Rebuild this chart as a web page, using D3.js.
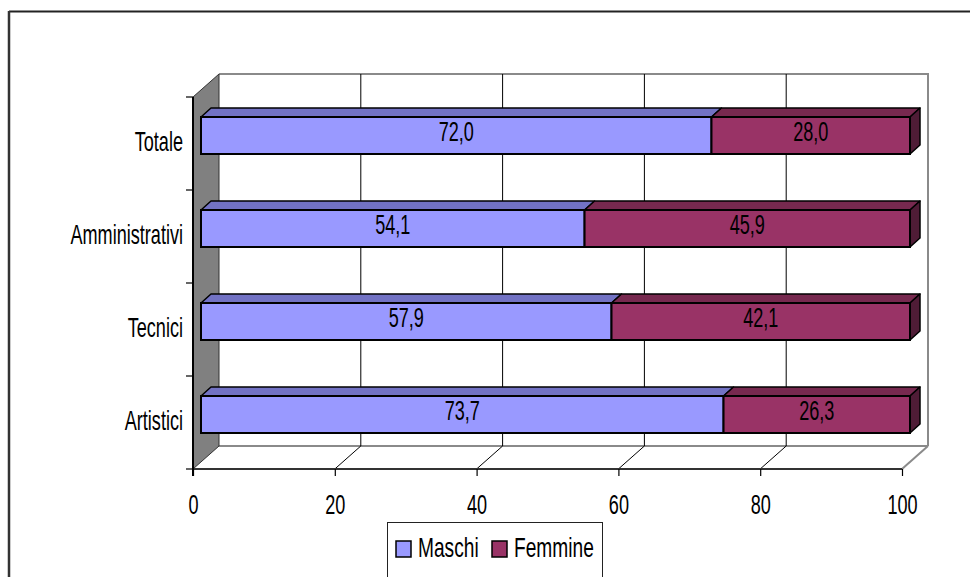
<!DOCTYPE html>
<html>
<head>
<meta charset="utf-8">
<script src="https://cdn.jsdelivr.net/npm/d3@7"></script>
<style>
  html, body { margin: 0; padding: 0; background: #fff; }
  svg { display: block; }
  text { font-family: "Liberation Sans", Arial, sans-serif; font-size: 27px; fill: #000; }
</style>
</head>
<body>
<svg id="chart" width="970" height="577"></svg>
<script>
// ---- data ----
const categories = ["Totale", "Amministrativi", "Tecnici", "Artistici"];
const seriesNames = ["Maschi", "Femmine"];
const maschi = [72.0, 54.1, 57.9, 73.7];
const femmine = [28.0, 45.9, 42.1, 26.3];
const xTicks = [0, 20, 40, 60, 80, 100];

// ---- styles ----
const frontColors = ["#9999FF", "#993366"];
const topColors = ["#7272C4", "#77294F"];
const sideColors = ["#5A5AA0", "#4F1C36"];
const SX = 0.67; // horizontal condensing of text

const svg = d3.select("#chart");

// geometry
const DX = 26, DY = -23;            // depth of the 3D box
const x = d3.scaleLinear().domain([0, 100]).range([193, 902]);
const y = d3.scaleBand().domain(categories).range([97, 469]).padding(0);
const barOff = { x: 8, y: -8 };      // front face offset into the depth
const barDepth = { x: 10, y: -9 };   // visible depth of bars
const barH = 37;

const locale = d3.formatLocale({ decimal: ",", thousands: ".", grouping: [3], currency: ["", "€"] });
const fmt = locale.format(".1f");

// outer frame
svg.append("line").attr("x1", 9).attr("x2", 970).attr("y1", 11.5).attr("y2", 11.5)
  .attr("stroke", "#222").attr("stroke-width", 2);
svg.append("line").attr("x1", 9).attr("x2", 9).attr("y1", 11).attr("y2", 577)
  .attr("stroke", "#333").attr("stroke-width", 2.5);

const y0 = y.range()[0], y1 = y.range()[1];
const xl = x(0), xr = x(100);

// back wall
svg.append("rect").attr("x", xl + DX).attr("y", y0 + DY)
  .attr("width", xr - xl).attr("height", y1 - y0)
  .attr("fill", "#fff");
svg.append("path")
  .attr("d", `M${xl + DX},${y0 + DY}H${xr + DX}V${y1 + DY}`)
  .attr("fill", "none").attr("stroke", "#8a8a8a").attr("stroke-width", 2);
svg.append("line").attr("x1", xl + DX).attr("x2", xr + DX).attr("y1", y1 + DY).attr("y2", y1 + DY)
  .attr("stroke", "#8a8a8a").attr("stroke-width", 2);

// left side wall
svg.append("path")
  .attr("d", `M${xl},${y0}L${xl + DX},${y0 + DY}V${y1 + DY}L${xl},${y1}Z`)
  .attr("fill", "#808080").attr("stroke", "#333").attr("stroke-width", 1);

// floor right edge
svg.append("line").attr("x1", xr).attr("y1", y1).attr("x2", xr + DX).attr("y2", y1 + DY)
  .attr("stroke", "#8a8a8a").attr("stroke-width", 2);

// gridlines on the back wall and floor
const gridVals = xTicks.filter(v => v > 0 && v < 100);
svg.selectAll("line.grid").data(gridVals).join("line").attr("class", "grid")
  .attr("x1", d => x(d) + DX).attr("x2", d => x(d) + DX)
  .attr("y1", y0 + DY).attr("y2", y1 + DY)
  .attr("stroke", "#000").attr("stroke-width", 1);
svg.selectAll("line.floorgrid").data(gridVals).join("line").attr("class", "floorgrid")
  .attr("x1", d => x(d)).attr("y1", y1)
  .attr("x2", d => x(d) + DX).attr("y2", y1 + DY)
  .attr("stroke", "#000").attr("stroke-width", 1);

// x axis (front floor edge)
const xAxis = d3.axisBottom(x).tickValues(xTicks).tickSize(7).tickFormat(d3.format("d"));
const gx = svg.append("g").attr("transform", `translate(0,${y1})`).call(xAxis);
gx.select(".domain").attr("stroke", "#333").attr("stroke-width", 2)
  .attr("d", `M${xl},0H${xr}`);
gx.selectAll(".tick line").attr("stroke", "#000").attr("stroke-width", 1.2);
gx.selectAll(".tick text").attr("font-size", null).attr("font-family", null)
  .attr("y", 0).attr("dy", null)
  .attr("transform", `translate(0,45) scale(${SX},1)`)
  .attr("text-anchor", "middle");

// y axis
const boundaries = categories.map(c => y(c)).concat([y1]);
svg.append("line").attr("x1", xl).attr("x2", xl).attr("y1", y0).attr("y2", y1 + 7)
  .attr("stroke", "#000").attr("stroke-width", 2);
svg.selectAll("line.ytick").data(boundaries).join("line").attr("class", "ytick")
  .attr("x1", xl - 7).attr("x2", xl).attr("y1", d => d).attr("y2", d => d)
  .attr("stroke", "#000").attr("stroke-width", 1.2);
svg.selectAll("text.ylab").data(categories).join("text").attr("class", "ylab")
  .attr("text-anchor", "end")
  .attr("transform", d => `translate(183,${y(d) + y.bandwidth() / 2 + 7}) scale(${SX},1)`)
  .text(d => d);

// bars
const series = [maschi, femmine];
categories.forEach((cat, i) => {
  const fy = y(cat) + y.bandwidth() / 2 + barOff.y - barH / 2; // top of front face
  let start = 0;
  series.forEach((vals, s) => {
    const v = vals[i];
    const xa = x(start) + barOff.x, xb = x(start + v) + barOff.x;
    const g = svg.append("g");
    // top face
    g.append("path")
      .attr("d", `M${xa},${fy}L${xa + barDepth.x},${fy + barDepth.y}L${xb + barDepth.x},${fy + barDepth.y}L${xb},${fy}Z`)
      .attr("fill", topColors[s]).attr("stroke", "#000").attr("stroke-width", 1.5).attr("stroke-linejoin", "round");
    // side face (last segment only)
    if (s === series.length - 1) {
      g.append("path")
        .attr("d", `M${xb},${fy}L${xb + barDepth.x},${fy + barDepth.y}L${xb + barDepth.x},${fy + barDepth.y + barH}L${xb},${fy + barH}Z`)
        .attr("fill", sideColors[s]).attr("stroke", "#000").attr("stroke-width", 1.5).attr("stroke-linejoin", "round");
    }
    // front face
    g.append("rect").attr("x", xa).attr("y", fy).attr("width", xb - xa).attr("height", barH)
      .attr("fill", frontColors[s]).attr("stroke", "#000").attr("stroke-width", 2);
    // label
    g.append("text").attr("text-anchor", "middle")
      .attr("transform", `translate(${(xa + xb) / 2},${fy + barH / 2 + 5}) scale(${SX},1)`)
      .text(fmt(v));
    start += v;
  });
});

// legend
const lg = svg.append("g");
lg.append("rect").attr("x", 387.5).attr("y", 522.5).attr("width", 215).attr("height", 80)
  .attr("fill", "#fff").attr("stroke", "#222").attr("stroke-width", 1);
const legendX = [396, 492];
seriesNames.forEach((name, s) => {
  lg.append("rect").attr("x", legendX[s]).attr("y", 541).attr("width", 15).attr("height", 16)
    .attr("fill", frontColors[s]).attr("stroke", "#000").attr("stroke-width", 1.5);
  lg.append("text").attr("transform", `translate(${legendX[s] + 22},557) scale(0.71,1)`)
    .text(name);
});
</script>
</body>
</html>
